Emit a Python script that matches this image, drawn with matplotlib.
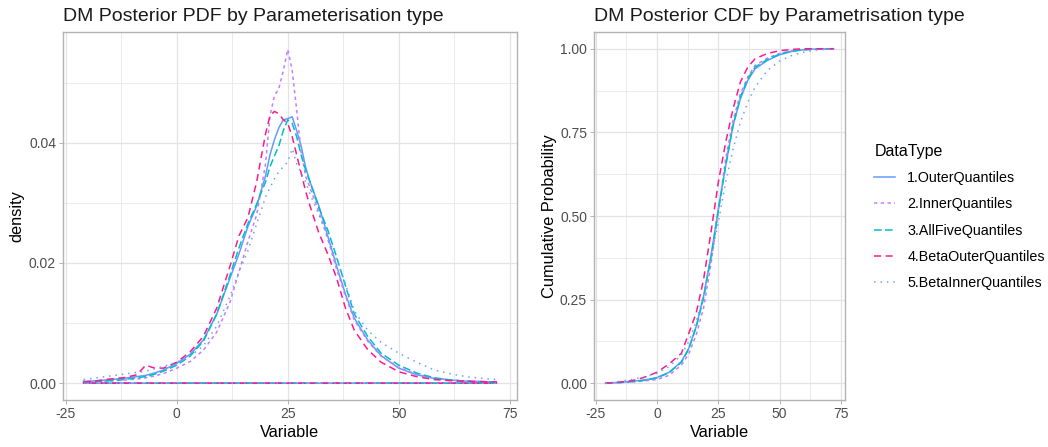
import numpy as np
import matplotlib
matplotlib.use("Agg")
import matplotlib.pyplot as plt
from matplotlib.ticker import MultipleLocator

plt.rcParams["font.family"] = ["Liberation Sans", "DejaVu Sans"]
plt.rcParams["axes.unicode_minus"] = False

# ---- data ----
data_types = ["1.OuterQuantiles", "2.InnerQuantiles", "3.AllFiveQuantiles",
              "4.BetaOuterQuantiles", "5.BetaInnerQuantiles"]

pdf_x = [-21, -18, -15, -12, -9, -7, -5, -3, 0, 3, 6, 9, 12, 14, 16, 18, 20, 21, 22, 23,
         24, 25, 26, 27, 28, 29, 30, 32, 34, 36, 38, 40, 43, 46, 50, 54, 58, 62, 66, 72]

pdf_outer = [0.0003, 0.0004, 0.0006, 0.0008, 0.0011, 0.0013, 0.0017, 0.0022, 0.0033, 0.0048,
             0.0072, 0.0115, 0.0175, 0.0215, 0.0260, 0.0295, 0.0345, 0.0380, 0.0405, 0.0425,
             0.0438, 0.0440, 0.0443, 0.0420, 0.0395, 0.0360, 0.0335, 0.0295, 0.0245, 0.0195,
             0.0148, 0.0108, 0.0072, 0.0046, 0.0025, 0.0014, 0.0008, 0.0005, 0.0003, 0.0002]
pdf_inner = [0.0002, 0.0003, 0.0004, 0.0005, 0.0007, 0.0009, 0.0012, 0.0016, 0.0025, 0.0036,
             0.0055, 0.0085, 0.0135, 0.0185, 0.0235, 0.0280, 0.0365, 0.0445, 0.0478, 0.0490,
             0.0520, 0.0555, 0.0520, 0.0455, 0.0385, 0.0345, 0.0325, 0.0285, 0.0240, 0.0190,
             0.0145, 0.0105, 0.0070, 0.0045, 0.0026, 0.0015, 0.0008, 0.0005, 0.0003, 0.0002]
pdf_allfive = [0.0002, 0.0003, 0.0004, 0.0006, 0.0009, 0.0011, 0.0015, 0.0020, 0.0030, 0.0045,
               0.0070, 0.0115, 0.0180, 0.0225, 0.0265, 0.0298, 0.0335, 0.0360, 0.0378, 0.0395,
               0.0420, 0.0438, 0.0432, 0.0410, 0.0380, 0.0355, 0.0335, 0.0292, 0.0255, 0.0210,
               0.0162, 0.0115, 0.0078, 0.0050, 0.0030, 0.0017, 0.0009, 0.0005, 0.0003, 0.0002]
pdf_beta_outer = [0.0002, 0.0004, 0.0007, 0.0009, 0.0014, 0.0030, 0.0025, 0.0025, 0.0035, 0.0052,
                  0.0078, 0.0125, 0.0195, 0.0245, 0.0275, 0.0335, 0.0415, 0.0445, 0.0452, 0.0448,
                  0.0438, 0.0432, 0.0410, 0.0380, 0.0350, 0.0320, 0.0295, 0.0250, 0.0215, 0.0175,
                  0.0125, 0.0088, 0.0056, 0.0035, 0.0019, 0.0011, 0.0006, 0.0004, 0.0003, 0.0002]
pdf_beta_inner = [0.0006, 0.0009, 0.0012, 0.0015, 0.0018, 0.0020, 0.0024, 0.0028, 0.0035, 0.0045,
                  0.0062, 0.0095, 0.0145, 0.0185, 0.0220, 0.0265, 0.0310, 0.0325, 0.0340, 0.0352,
                  0.0360, 0.0368, 0.0390, 0.0365, 0.0350, 0.0335, 0.0315, 0.0280, 0.0245, 0.0205,
                  0.0165, 0.0120, 0.0088, 0.0068, 0.0050, 0.0035, 0.0022, 0.0015, 0.0010, 0.0006]

cdf_x = [-21, -15, -10, -5, 0, 5, 10, 13, 16, 19, 22, 25, 28, 31, 34, 37, 40, 45, 50, 55,
         60, 65, 72]
cdf_outer = [0.0, 0.003, 0.006, 0.010, 0.017, 0.033, 0.065, 0.105, 0.170, 0.260, 0.380, 0.520,
             0.650, 0.770, 0.850, 0.905, 0.940, 0.965, 0.982, 0.992, 0.997, 0.999, 1.0]
cdf_inner = [0.0, 0.002, 0.004, 0.007, 0.011, 0.024, 0.055, 0.088, 0.145, 0.225, 0.355, 0.515,
             0.670, 0.785, 0.865, 0.915, 0.950, 0.972, 0.986, 0.994, 0.998, 0.999, 1.0]
cdf_allfive = [0.0, 0.002, 0.005, 0.009, 0.016, 0.032, 0.063, 0.103, 0.168, 0.255, 0.375, 0.515,
               0.650, 0.770, 0.855, 0.910, 0.945, 0.968, 0.984, 0.993, 0.997, 0.999, 1.0]
cdf_beta_outer = [0.0, 0.004, 0.008, 0.018, 0.033, 0.058, 0.090, 0.150, 0.210, 0.310, 0.450,
                  0.600, 0.720, 0.820, 0.900, 0.945, 0.970, 0.986, 0.994, 0.998, 1.0, 1.0, 1.0]
cdf_beta_inner = [0.0, 0.006, 0.012, 0.020, 0.030, 0.050, 0.085, 0.125, 0.185, 0.265, 0.370,
                  0.480, 0.600, 0.700, 0.780, 0.840, 0.885, 0.935, 0.963, 0.980, 0.990, 0.996, 1.0]

pdf_series = [pdf_outer, pdf_inner, pdf_allfive, pdf_beta_outer, pdf_beta_inner]
cdf_series = [cdf_outer, cdf_inner, cdf_allfive, cdf_beta_outer, cdf_beta_inner]

colors = ["#619CFF", "#C77CFF", "#00BFC4", "#FF1A8C", "#6FA0FA"]
dashes = [None, (2.2, 2.2), (5.0, 2.2), (4.6, 3.0), (1.0, 3.2)]

lw = 1.1
grid_col = "#E3E3E3"
border_col = "#B3B3B3"
text_col = "#4D4D4D"

fig = plt.figure(figsize=(10.48, 4.47), dpi=100)
ax1 = fig.add_axes([0.0601, 0.1051, 0.4332, 0.8233])
ax2 = fig.add_axes([0.5668, 0.1051, 0.2395, 0.8233])


def style_axes(ax):
    ax.set_axisbelow(True)
    ax.grid(which="major", color=grid_col, linewidth=0.9)
    ax.grid(which="minor", color=grid_col, linewidth=0.5)
    for sp in ax.spines.values():
        sp.set_color(border_col)
        sp.set_linewidth(1.0)
    ax.tick_params(which="major", colors=border_col, length=3, width=0.7,
                   labelcolor=text_col, labelsize=10, pad=2)
    ax.tick_params(which="minor", length=0)


handles = []
for i, (name, ys) in enumerate(zip(data_types, pdf_series)):
    xs = np.r_[pdf_x, pdf_x[-1], pdf_x[0], pdf_x[0]]
    yy = np.r_[ys, 0, 0, ys[0]]
    line, = ax1.plot(xs, yy, color=colors[i], lw=lw, label=name)
    if dashes[i]:
        line.set_dashes(dashes[i])
    handles.append(line)

for i, ys in enumerate(cdf_series):
    line, = ax2.plot(cdf_x, ys, color=colors[i], lw=lw)
    if dashes[i]:
        line.set_dashes(dashes[i])

ax1.set_xlim(-25.65, 76.65)
ax1.set_ylim(-0.0028, 0.0584)
ax1.set_xticks([-25, 0, 25, 50, 75])
ax1.set_yticks([0.0, 0.02, 0.04])
ax1.set_yticklabels(["0.00", "0.02", "0.04"])
ax1.xaxis.set_minor_locator(MultipleLocator(12.5))
ax1.yaxis.set_minor_locator(MultipleLocator(0.01))
style_axes(ax1)
ax1.set_xlabel("Variable", fontsize=11.8, labelpad=3)
ax1.set_ylabel("density", fontsize=11.8, labelpad=3)
ax1.set_title("DM Posterior PDF by Parameterisation type", fontsize=14,
              loc="left", pad=8, color="#1A1A1A")

ax2.set_xlim(-25.65, 76.65)
ax2.set_ylim(-0.05, 1.05)
ax2.set_xticks([-25, 0, 25, 50, 75])
ax2.set_yticks([0.0, 0.25, 0.5, 0.75, 1.0])
ax2.set_yticklabels(["0.00", "0.25", "0.50", "0.75", "1.00"])
ax2.xaxis.set_minor_locator(MultipleLocator(12.5))
ax2.yaxis.set_minor_locator(MultipleLocator(0.125))
style_axes(ax2)
ax2.set_xlabel("Variable", fontsize=11.8, labelpad=3)
ax2.set_ylabel("Cumulative Probability", fontsize=11.8, labelpad=2)
ax2.set_title("DM Posterior CDF by Parametrisation type", fontsize=14,
              loc="left", pad=8, color="#1A1A1A")

leg = fig.legend(handles=handles, labels=data_types, title="DataType",
                 loc="upper left", bbox_to_anchor=(0.822, 0.707),
                 frameon=False, fontsize=10.3, title_fontsize=11.5,
                 handlelength=1.45, handletextpad=0.85, labelspacing=0.86)
leg._legend_box.align = "left"

fig.savefig("out.png", dpi=100)
